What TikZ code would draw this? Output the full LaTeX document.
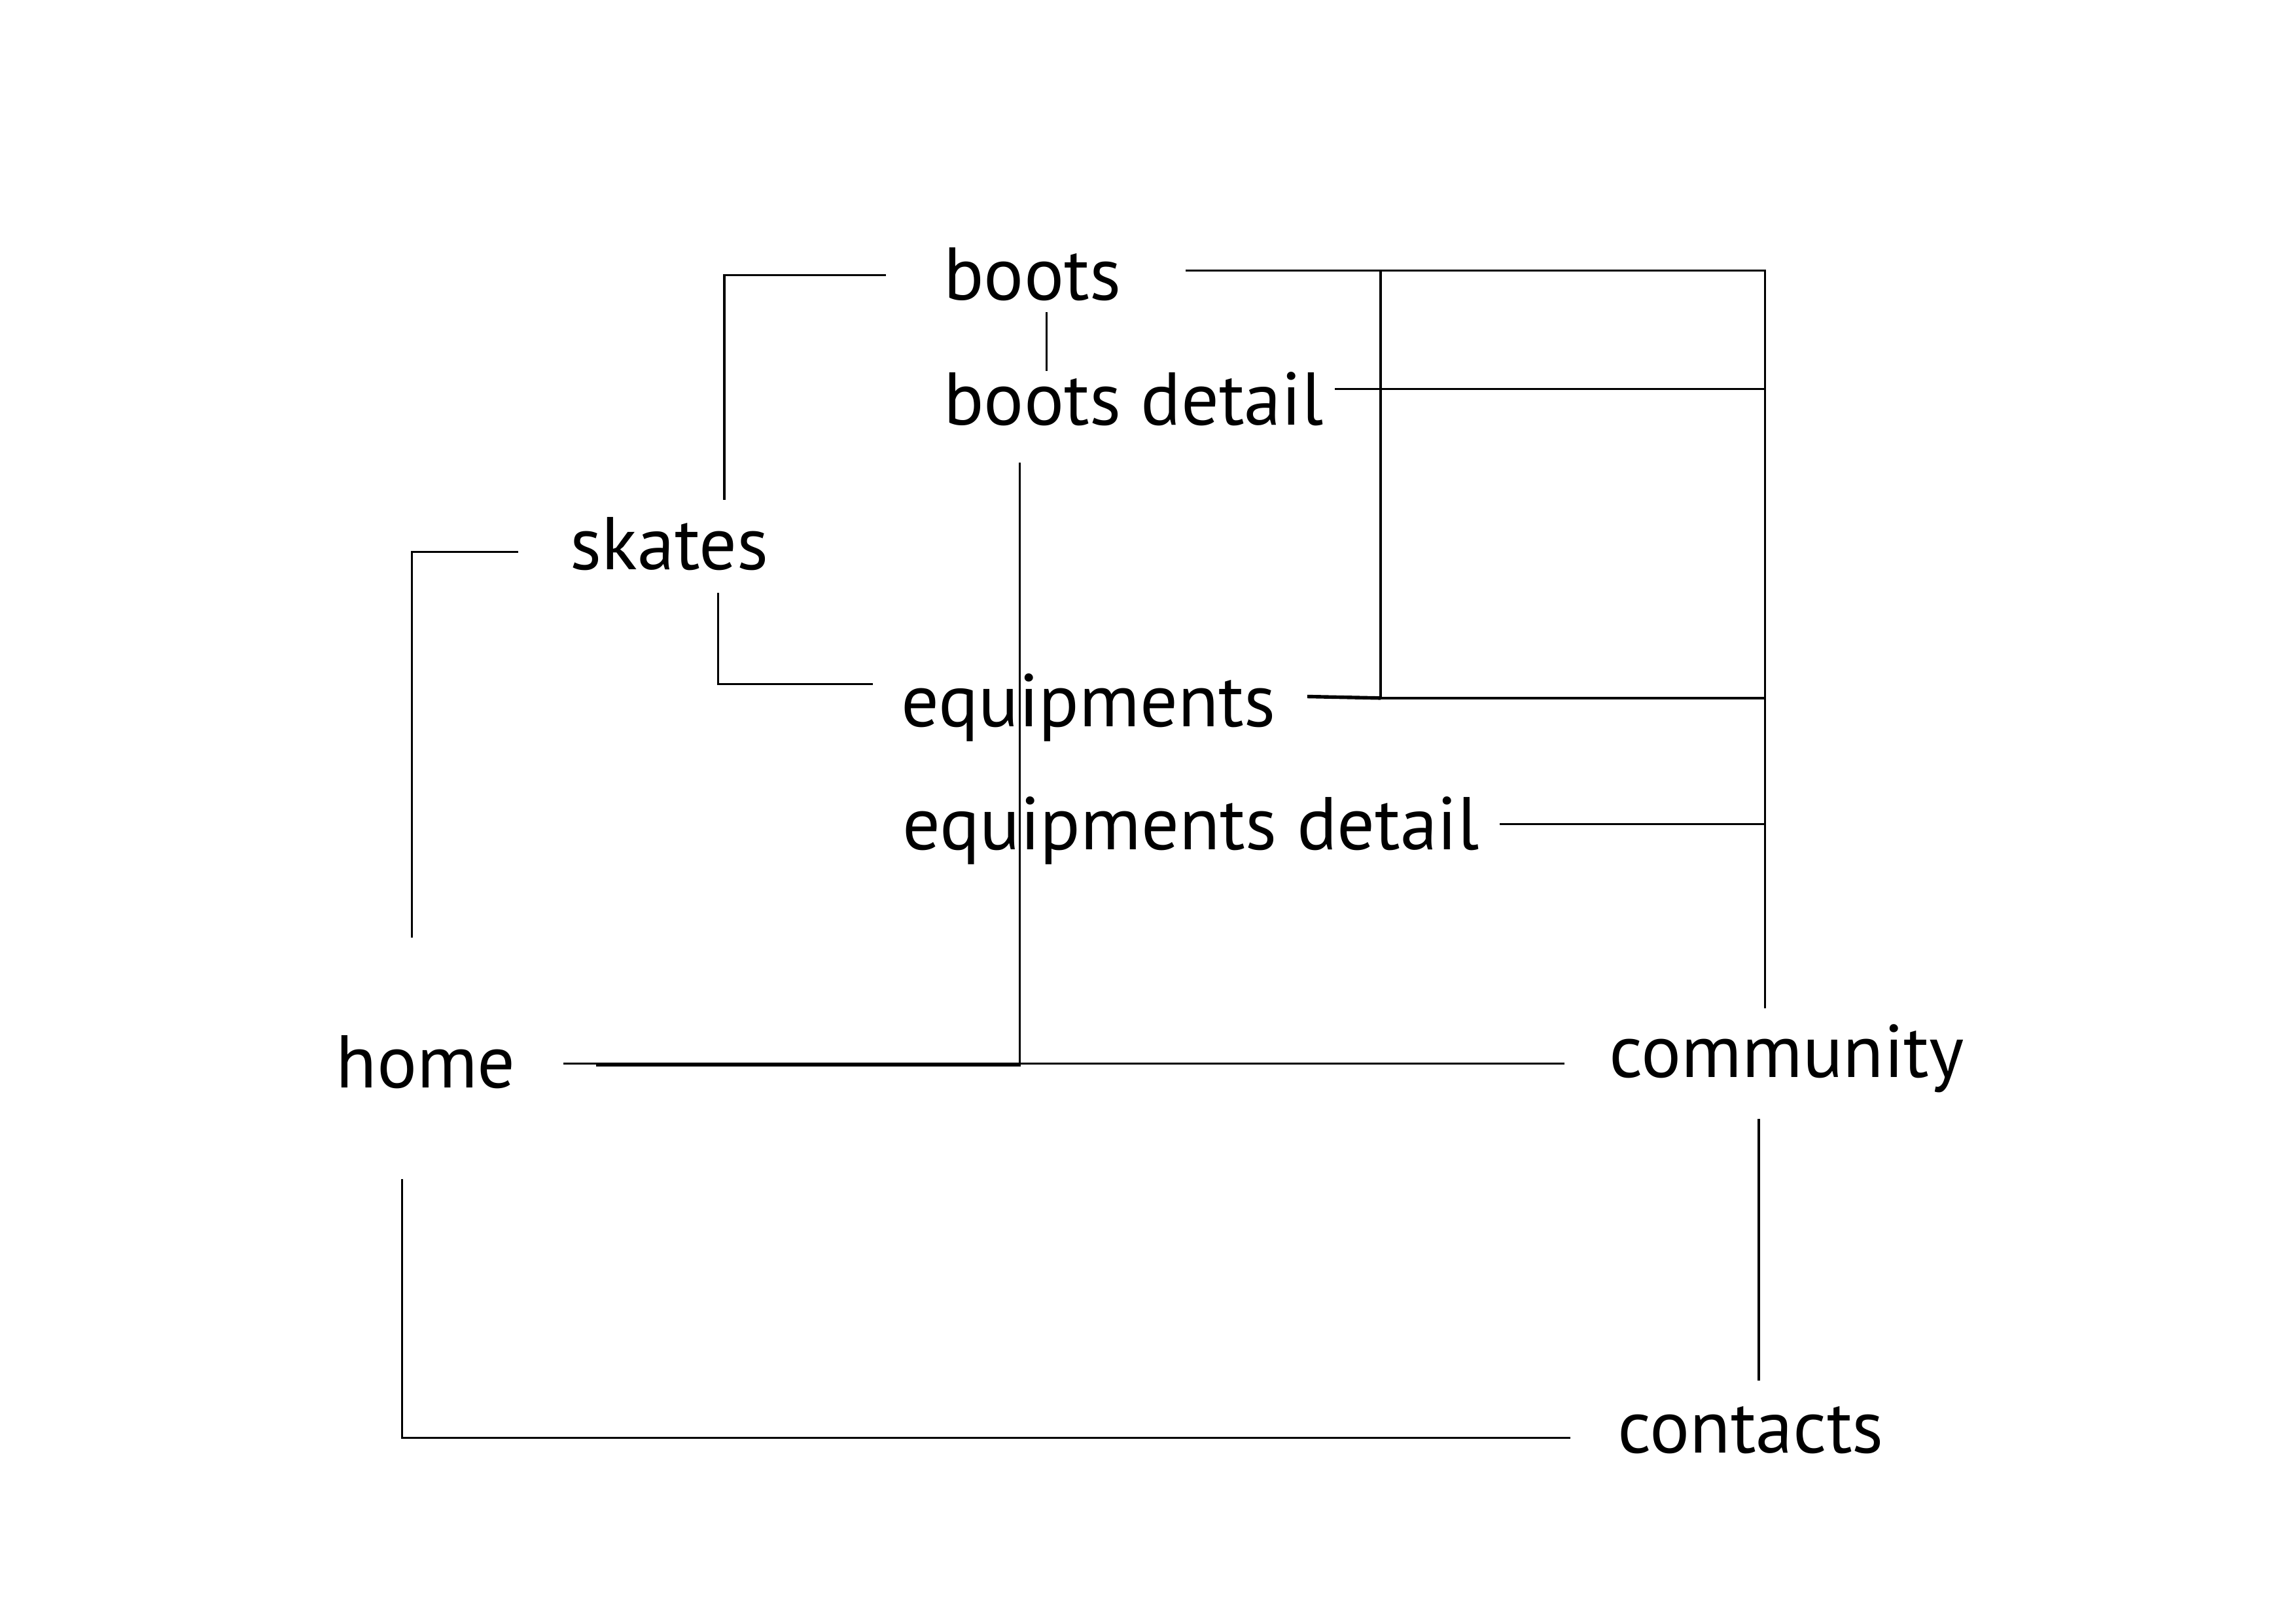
\documentclass[tikz,border=0pt]{standalone}
\usepackage{fontspec}
\setmainfont{PT Sans}
\tikzset{
  page/.style={font=\fontsize{27.5}{32}\selectfont, anchor=base west, inner sep=0pt},
  link/.style={line width=0.8pt},
}
\begin{document}
\begin{tikzpicture}
\useasboundingbox (0,0) rectangle (29.7,21);
%\draw[step=1cm,gray,very thin] (0,0) grid (29.7,21); %background grid

% pages
\node[page] (boots) at (12.20,17.12) {boots};
\node[page] (bdet) at (12.20,15.50) {boots detail};
\node[page] (skates) at (7.37,13.63) {skates};
\node[page] (equip) at (11.65,11.60) {equipments};
\node[page] (edet) at (11.67,10.01) {equipments detail};
\node[page] (home) at (4.34,6.93) {home};
\node[page] (comm) at (20.81,7.06) {community};
\node[page] (cont) at (20.92,2.21) {contacts};

% line ends
\coordinate (bootsW) at (11.46,17.44);
\coordinate (bootsS) at (13.54,16.96);
\coordinate (bootsE) at (15.34,17.50);
\coordinate (bdetN) at (13.54,16.20);
\coordinate (bdetS) at (13.19,15.02);
\coordinate (bdetE) at (17.27,15.97);
\coordinate (skatesN) at (9.37,14.53);
\coordinate (skatesW) at (6.70,13.86);
\coordinate (skatesS) at (9.29,13.33);
\coordinate (equipW) at (11.29,12.15);
\coordinate (equipE) at (16.91,11.99);
\coordinate (spineB) at (17.86,11.97);
\coordinate (edetE) at (19.40,10.34);
\coordinate (homeN) at (5.33,8.87);
\coordinate (homeE) at (7.29,7.24);
\coordinate (homeE2) at (7.71,7.22);
\coordinate (homeS) at (5.20,5.75);
\coordinate (commN) at (22.83,7.96);
\coordinate (commW) at (20.24,7.24);
\coordinate (commS) at (22.75,6.53);
\coordinate (contN) at (22.75,3.14);
\coordinate (contW) at (20.31,2.40);

% skates branch
\draw[link] (bootsW) -| (skatesN);
\draw[link] (bootsS) -- (bdetN);
\draw[link] (skatesS) |- (equipW);
\draw[link] (homeN) |- (skatesW);

% community branch
\draw[link] (bootsE) -| (commN);
\draw[link] (bootsE -| spineB) -- (spineB);
\draw[link] (bdetE) -- (bdetE -| commN);
\draw[link,line width=1.3pt] (equipE) -- (spineB);
\draw[link] (spineB) -- (spineB -| commN);
\draw[link] (edetE) -- (edetE -| commN);

% home row
\draw[link] (homeE) -- (commW);
\draw[link] (homeE2) -| (bdetS);
\draw[link] (homeS) |- (contW);
\draw[link] (commS) -- (contN);
\end{tikzpicture}
\end{document}
